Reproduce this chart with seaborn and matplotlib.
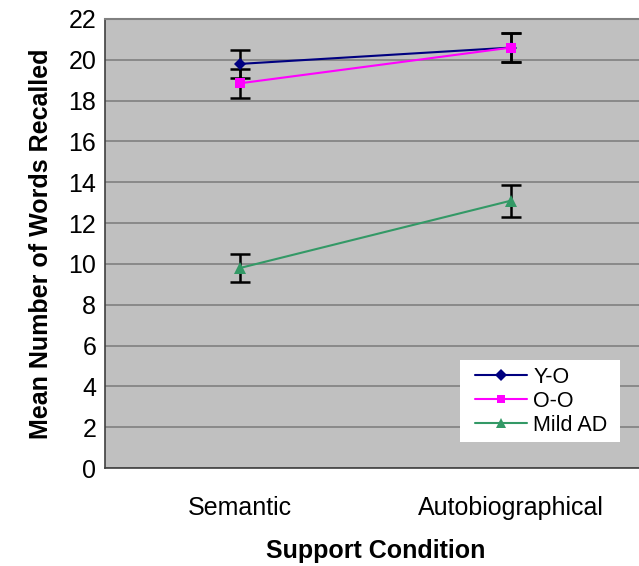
import matplotlib
matplotlib.use("Agg")
import matplotlib.pyplot as plt
import seaborn as sns
import pandas as pd
import numpy as np
from matplotlib.lines import Line2D
from matplotlib.patches import Rectangle

conditions = ["Semantic", "Autobiographical"]
groups = ["Y-O", "O-O", "Mild AD"]
yo_means = [19.8, 20.6]
oo_means = [18.85, 20.6]
ad_means = [9.8, 13.1]
yo_err = [0.7, 0.7]
oo_err = [0.7, 0.7]
ad_err = [0.7, 0.78]
y_ticks = [0, 2, 4, 6, 8, 10, 12, 14, 16, 18, 20, 22]

colors = {"Y-O": "#000080", "O-O": "#FF00FF", "Mild AD": "#339966"}
markers = {"Y-O": "D", "O-O": "s", "Mild AD": "^"}
msizes = {"Y-O": 6.5, "O-O": 6.5, "Mild AD": 8}

means = {"Y-O": yo_means, "O-O": oo_means, "Mild AD": ad_means}
errs = {"Y-O": yo_err, "O-O": oo_err, "Mild AD": ad_err}

rows = []
for g in groups:
    for i, c in enumerate(conditions):
        rows.append({"group": g, "pos": i, "condition": c, "mean": means[g][i], "err": errs[g][i]})
df = pd.DataFrame(rows)

sns.set_theme(style="white")
plt.rcParams["font.family"] = ["Liberation Sans", "DejaVu Sans"]
plt.rcParams["text.color"] = "black"
plt.rcParams["axes.labelcolor"] = "black"
plt.rcParams["xtick.color"] = "black"
plt.rcParams["ytick.color"] = "black"

fig = plt.figure(figsize=(6.39, 5.66), dpi=100)
ax = fig.add_axes([104.5 / 639, 1 - 468 / 566, 542 / 639, 449 / 566])
ax.set_facecolor("#C0C0C0")

for g in groups:
    sub = df[df.group == g]
    ax.errorbar(sub["pos"], sub["mean"], yerr=sub["err"], fmt="none",
                ecolor="black", elinewidth=1.8, capsize=7.5, capthick=1.8, zorder=3)

sns.lineplot(data=df, x="pos", y="mean", hue="group", hue_order=groups,
             palette=colors, style="group", style_order=groups,
             markers=markers, dashes=False, linewidth=1.5, markersize=7,
             markeredgewidth=0, ax=ax, zorder=4, legend=False)

for line, g in zip(ax.get_lines()[-3:], groups):
    line.set_markersize(msizes[g])

ax.set_xlim(-0.5, len(conditions) - 0.5)
ax.set_ylim(0, 22)
ax.set_yticks(y_ticks)
ax.set_yticklabels([str(t) for t in y_ticks])
ax.set_xticks(range(len(conditions)))
ax.set_xticklabels(conditions)
ax.yaxis.grid(True, color="#808080", linewidth=1.2)
ax.set_axisbelow(True)
ax.tick_params(axis="both", length=0, labelsize=18, colors="black")
ax.tick_params(axis="y", pad=6)
ax.tick_params(axis="x", pad=20)

for s in ["left", "bottom"]:
    ax.spines[s].set_color("#404040")
    ax.spines[s].set_linewidth(1.2)
ax.spines["top"].set_color("#808080")
ax.spines["top"].set_linewidth(1.5)
ax.spines["right"].set_color("#808080")

ax.set_xlabel("Support Condition", fontsize=18, fontweight="bold", labelpad=14, color="black")
ax.set_ylabel("Mean Number of Words Recalled", fontsize=18, fontweight="bold", labelpad=11, color="black")

# legend box (white, no border)
ax_x0, ax_w, ax_y0, ax_h = 104.5, 542, 468, 449
ax.add_patch(Rectangle(((460 - ax_x0) / ax_w, (ax_y0 - 442) / ax_h),
                       160 / ax_w, 82 / ax_h, transform=ax.transAxes,
                       facecolor="white", edgecolor="none", zorder=5))

handles = [Line2D([0], [0], color=colors[g], marker=markers[g], markersize=msizes[g] * 0.95,
                  markeredgewidth=0, linewidth=1.5) for g in groups]
leg = ax.legend(handles, groups, loc="upper left",
                bbox_to_anchor=((475 - ax_x0) / ax_w, (ax_y0 - 367) / ax_h),
                fontsize=15.5, frameon=False, handlelength=2.4,
                handletextpad=0.3, labelspacing=0.13, borderpad=0.0,
                borderaxespad=0)
leg.set_zorder(6)

fig.savefig("out.png", dpi=100)
